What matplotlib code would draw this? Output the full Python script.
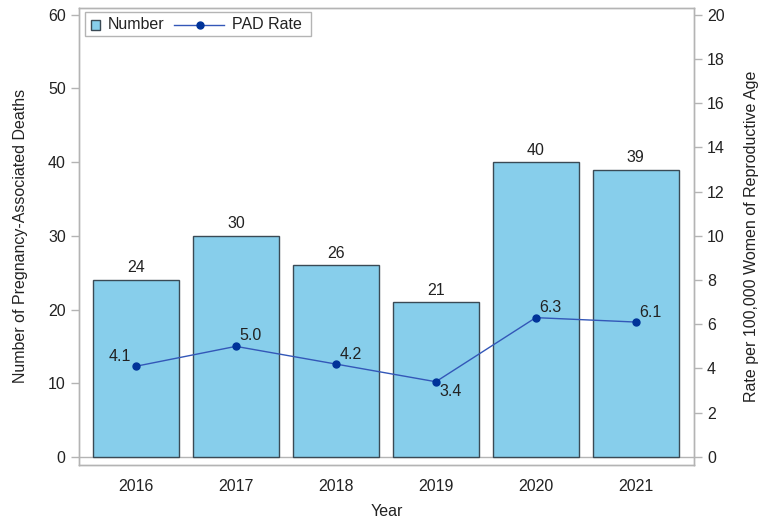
import matplotlib
matplotlib.use("Agg")
import matplotlib.pyplot as plt
from matplotlib.patches import Rectangle
from matplotlib.lines import Line2D

plt.rcParams['font.family'] = ['Liberation Sans', 'DejaVu Sans']

years = ["2016", "2017", "2018", "2019", "2020", "2021"]
deaths = [24, 30, 26, 21, 40, 39]
rates = [4.1, 5.0, 4.2, 3.4, 6.3, 6.1]
left_ticks = [0, 10, 20, 30, 40, 50, 60]
right_ticks = [0, 2, 4, 6, 8, 10, 12, 14, 16, 18, 20]
legend_labels = ["Number", "PAD Rate"]

bar_color = "#87CEEB"
edge_color = "#3a4a55"
line_color = "#3357b8"
marker_color = "#003399"
frame_color = "#b4b4b4"
text_color = "#222222"
FS = 11.5

W, H = 759, 521
fig = plt.figure(figsize=(W / 100, H / 100), dpi=100)
ax = fig.add_axes([0.104, 0.1075, 0.81, 0.8775])
ax2 = ax.twinx()

x = list(range(len(years)))
ax.bar(x, deaths, width=0.865, color=bar_color, edgecolor=edge_color, linewidth=1.0, zorder=2)
ax.axhline(0, color=frame_color, linewidth=1.0, zorder=1)

ylo, yhi = -1.1, 60.95
ax.set_ylim(ylo, yhi)
ax2.set_ylim(ylo / 3, yhi / 3)
ax.set_xlim(-0.57, 5.58)

ax.set_yticks(left_ticks)
ax2.set_yticks(right_ticks)
ax.set_xticks(x)
ax.set_xticklabels(years)

for a in (ax, ax2):
    for s in a.spines.values():
        s.set_color(frame_color)
        s.set_linewidth(1.0)
    a.tick_params(axis='y', colors=frame_color, labelcolor=text_color, labelsize=FS, length=6, width=1)
ax.tick_params(axis='x', length=0, labelsize=FS, labelcolor=text_color, pad=10)

for xi, d in zip(x, deaths):
    ax.text(xi, d + 1.65, str(d), ha='center', va='center', fontsize=FS, color=text_color)

ax2.plot(x, rates, color=line_color, linewidth=1.0, marker='o', markersize=5,
         markerfacecolor=marker_color, markeredgecolor=marker_color, zorder=3)

offsets = [(-0.16, 0.45), (0.15, 0.5), (0.15, 0.45),
           (0.15, -0.45), (0.15, 0.48), (0.15, 0.45)]
for xi, r, (dx, dy) in zip(x, rates, offsets):
    ax2.text(xi + dx, r + dy, f"{r:.1f}", ha='center', va='center', fontsize=FS,
             color=text_color, zorder=4)

ax.set_xlabel("Year", fontsize=FS, color=text_color, labelpad=7)
ax.set_ylabel("Number of Pregnancy-Associated Deaths", fontsize=FS, color=text_color, labelpad=14)
ax2.set_ylabel("Rate per 100,000 Women of Reproductive Age", fontsize=FS, color=text_color,
               rotation=90, labelpad=14)

# legend drawn in figure pixel coordinates (top-left origin)
def fx(px):
    return px / W

def fy(py):
    return 1 - py / H

fig.add_artist(Rectangle((fx(84.5), fy(35.5)), (310.5 - 84.5) / W, (35.5 - 12.5) / H,
                         transform=fig.transFigure, facecolor='white', edgecolor=frame_color,
                         linewidth=1.0, zorder=10))
fig.add_artist(Rectangle((fx(90.5), fy(29.5)), 9 / W, 9 / H, transform=fig.transFigure,
                         facecolor=bar_color, edgecolor=edge_color, linewidth=1.0, zorder=11))
fig.text(fx(108), fy(24.5), legend_labels[0], ha='left', va='center', fontsize=FS,
         color=text_color, zorder=11)
fig.add_artist(Line2D([fx(174), fx(224)], [fy(24.5), fy(24.5)], transform=fig.transFigure,
                      color=line_color, linewidth=1.0, zorder=11))
fig.add_artist(Line2D([fx(199.5)], [fy(24.5)], transform=fig.transFigure, marker='o',
                      markersize=5, markerfacecolor=marker_color, markeredgecolor=marker_color,
                      linestyle='none', zorder=12))
fig.text(fx(232), fy(24.5), legend_labels[1], ha='left', va='center', fontsize=FS,
         color=text_color, zorder=11)

fig.savefig("out.png", dpi=100)
